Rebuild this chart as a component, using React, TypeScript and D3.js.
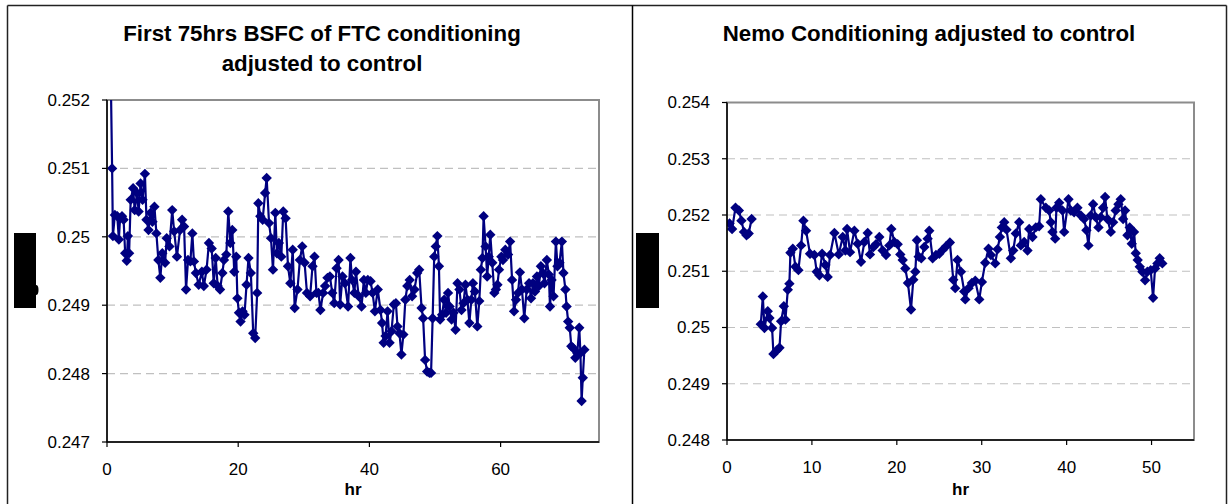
import React from "react";
import * as d3 from "d3";

// ---------- DATA ----------
const leftTitle = ["First 75hrs BSFC of FTC conditioning", "adjusted to control"];
const rightTitle = ["Nemo Conditioning adjusted to control"];
const xAxisTitle = "hr";

const leftXTicks = [0, 20, 40, 60];
const leftYTicks = [0.247, 0.248, 0.249, 0.25, 0.251, 0.252];
const leftYLabels = ["0.247", "0.248", "0.249", "0.25", "0.251", "0.252"];

const rightXTicks = [0, 10, 20, 30, 40, 50];
const rightYTicks = [0.248, 0.249, 0.25, 0.251, 0.252, 0.253, 0.254];
const rightYLabels = ["0.248", "0.249", "0.25", "0.251", "0.252", "0.253", "0.254"];

const leftHr = [
  0.4, 0.78, 0.9, 1.2, 1.57, 1.81, 1.99, 2.29, 2.53, 2.77,
  3.01, 3.19, 3.37, 3.61, 3.98, 4.22, 4.58, 4.82, 5.12, 5.42,
  5.78, 6.02, 6.33, 6.63, 6.93, 7.23, 7.53, 7.83, 8.13, 8.43,
  8.86, 9.1, 9.52, 9.94, 10.24, 10.66, 11.14, 11.45, 11.75, 12.05,
  12.35, 12.71, 13.01, 13.25, 13.55, 13.98, 14.46, 14.76, 15.18, 15.54,
  15.96, 16.27, 16.57, 16.87, 17.23, 17.59, 17.83, 18.19, 18.49, 18.8,
  19.1, 19.4, 19.7, 19.88, 20.12, 20.36, 20.66, 20.96, 21.27, 21.57,
  21.93, 22.29, 22.59, 22.89, 23.07, 23.37, 23.73, 24.1, 24.34, 24.7,
  25.0, 25.3, 25.66, 25.9, 26.2, 26.57, 26.87, 27.23, 27.59, 27.95,
  28.31, 28.61, 29.04, 29.4, 29.76, 30.12, 30.48, 30.96, 31.33, 31.63,
  31.93, 32.23, 32.53, 32.95, 33.25, 33.61, 33.98, 34.34, 34.64, 35.0,
  35.3, 35.54, 35.9, 36.27, 36.75, 37.11, 37.35, 37.71, 37.95, 38.37,
  38.8, 39.16, 39.46, 39.76, 40.18, 40.48, 40.84, 41.27, 41.69, 41.93,
  42.17, 42.47, 42.77, 43.07, 43.37, 43.73, 44.04, 44.28, 44.58, 44.88,
  45.18, 45.48, 45.78, 46.14, 46.51, 46.87, 47.29, 47.59, 47.95, 48.19,
  48.49, 48.8, 49.16, 49.4, 49.64, 49.88, 50.12, 50.36, 50.6, 50.78,
  51.08, 51.39, 51.69, 51.99, 52.23, 52.53, 52.83, 53.13, 53.43, 53.73,
  54.04, 54.34, 54.64, 54.94, 55.24, 55.54, 55.78, 56.08, 56.45, 56.75,
  56.99, 57.23, 57.41, 57.71, 57.95, 58.19, 58.43, 58.73, 59.04, 59.28,
  59.52, 59.76, 60.12, 60.36, 60.72, 61.14, 61.45, 61.75, 62.05, 62.35,
  62.65, 62.95, 63.25, 63.61, 63.98, 64.34, 64.64, 64.94, 65.24, 65.54,
  65.84, 66.14, 66.45, 66.69, 67.05, 67.35, 67.53, 67.77, 68.07, 68.43,
  68.67, 68.98, 69.34, 69.58, 69.88, 70.06, 70.3, 70.54, 70.78, 71.08,
  71.39, 71.69, 71.99, 72.17, 72.35, 72.53, 72.77,
];
const leftBsfc = [
  0.2535, 0.251, 0.25001, 0.25032, 0.2503, 0.24996, 0.25027, 0.2503, 0.25025, 0.24976,
  0.24965, 0.25001, 0.24976, 0.25054, 0.25071, 0.25039, 0.25064, 0.25037, 0.25078, 0.25054,
  0.25092, 0.25025, 0.2501, 0.25035, 0.25022, 0.25044, 0.25005, 0.24966, 0.2494, 0.24976,
  0.24962, 0.24998, 0.24986, 0.25039, 0.25008, 0.24971, 0.2501, 0.25025, 0.25015, 0.24923,
  0.24966, 0.24964, 0.25005, 0.24964, 0.24947, 0.2493, 0.24949, 0.24928, 0.24952, 0.24991,
  0.24983, 0.24932, 0.24969, 0.24928, 0.24923, 0.24947, 0.24966, 0.24974, 0.25037, 0.24991,
  0.2501, 0.24949, 0.24971, 0.2491, 0.24889, 0.24876, 0.24891, 0.24886, 0.2493, 0.24969,
  0.24947, 0.24859, 0.24852, 0.24918, 0.25049, 0.2503, 0.25025, 0.25064, 0.25086, 0.2502,
  0.24998, 0.24952, 0.25035, 0.24976, 0.24991, 0.24971, 0.25037, 0.25027, 0.24957, 0.24932,
  0.24981, 0.24896, 0.24923, 0.24966, 0.24986, 0.24962, 0.24918, 0.24913, 0.24957, 0.24971,
  0.24918, 0.24918, 0.24893, 0.24918, 0.24928, 0.2494, 0.24942, 0.24918, 0.24903, 0.24954,
  0.24966, 0.24901, 0.24942, 0.24932, 0.24898, 0.24969, 0.24937, 0.24918, 0.24949, 0.24913,
  0.24898, 0.24937, 0.24918, 0.24937, 0.24935, 0.24918, 0.24891, 0.24923, 0.24893, 0.24874,
  0.24845, 0.24855, 0.24891, 0.24845, 0.24862, 0.24901, 0.24903, 0.24869, 0.24859, 0.24828,
  0.24857, 0.24908, 0.24928, 0.24937, 0.24913, 0.24923, 0.24947, 0.24952, 0.24896, 0.24881,
  0.2482, 0.24803, 0.24801, 0.24801, 0.24881, 0.24971, 0.24986, 0.25001, 0.24957, 0.24879,
  0.24886, 0.24908, 0.24889, 0.24918, 0.24898, 0.24879, 0.24889, 0.24864, 0.24932, 0.24923,
  0.24893, 0.24903, 0.2493, 0.24908, 0.24874, 0.24908, 0.24932, 0.2492, 0.24869, 0.24906,
  0.24952, 0.24969, 0.2503, 0.24986, 0.24942, 0.24971, 0.25003, 0.24962, 0.24918, 0.24923,
  0.2493, 0.24952, 0.24971, 0.24966, 0.24981, 0.24974, 0.24993, 0.24937, 0.24891, 0.24908,
  0.24918, 0.24948, 0.24923, 0.24881, 0.24923, 0.24932, 0.2491, 0.24932, 0.2492, 0.24942,
  0.24928, 0.24957, 0.24947, 0.24932, 0.24966, 0.24945, 0.24898, 0.24937, 0.24913, 0.24993,
  0.24957, 0.24962, 0.24993, 0.24947, 0.24923, 0.24898, 0.24876, 0.24867, 0.2484, 0.24837,
  0.24823, 0.2483, 0.24867, 0.2483, 0.2476, 0.24794, 0.24835,
];

const rightHr = [
  0.3, 0.6, 1.0, 1.4, 1.7, 2.0, 2.3, 2.55, 2.9, 3.5,
  3.98, 4.22, 4.41, 4.8, 5.0, 5.31, 5.47, 5.86, 6.18, 6.37,
  6.69, 6.88, 7.16, 7.35, 7.47, 7.75, 8.06, 8.41, 8.73, 9.0,
  9.31, 9.78, 10.29, 10.57, 10.88, 11.2, 11.59, 11.86, 12.14, 12.65,
  13.16, 13.63, 13.94, 14.14, 14.49, 15.0, 15.39, 15.78, 16.18, 16.57,
  16.84, 17.24, 17.55, 17.94, 18.33, 18.73, 19.12, 19.35, 19.71, 20.1,
  20.41, 20.69, 21.0, 21.31, 21.67, 21.94, 22.18, 22.37, 22.57, 22.88,
  23.24, 23.63, 23.82, 24.22, 24.61, 25.0, 25.39, 25.78, 26.25, 26.65,
  26.88, 27.15, 27.55, 27.94, 28.06, 28.45, 28.84, 29.24, 29.71, 30.02,
  30.41, 30.8, 31.08, 31.59, 31.86, 32.14, 32.37, 32.65, 32.92, 33.43,
  33.71, 34.02, 34.41, 34.61, 35.0, 35.39, 35.59, 35.98, 36.37, 36.76,
  36.96, 37.55, 37.94, 38.14, 38.33, 38.65, 38.8, 39.12, 39.51, 39.71,
  40.22, 40.49, 40.88, 41.27, 41.67, 42.06, 42.33, 42.57, 42.84, 43.12,
  43.43, 43.75, 44.02, 44.29, 44.53, 44.8, 45.2, 45.47, 45.78, 46.1,
  46.37, 46.65, 46.88, 47.16, 47.43, 47.67, 47.94, 48.14, 48.37, 48.61,
  48.92, 49.24, 49.51, 49.9, 50.18, 50.41, 50.69, 50.96, 51.27,
];
const rightBsfc: (number | null)[] = [
  0.25185, 0.25175, 0.25213, 0.25208, 0.2519, 0.2517, 0.25164, 0.25167, 0.25193, null,
  0.25006, 0.25055, 0.24999, 0.25029, 0.25017, 0.24999, 0.24953, 0.24959, 0.24964, 0.25011,
  0.25038, 0.25014, 0.25067, 0.25078, 0.25133, 0.2514, 0.25108, 0.25102, 0.25146, 0.2519,
  0.25172, 0.25131, 0.25129, 0.25099, 0.25093, 0.25131, 0.25111, 0.2509, 0.25129, 0.25168,
  0.2513, 0.25161, 0.25137, 0.25175, 0.25134, 0.25172, 0.25149, 0.25117, 0.25152, 0.25168,
  0.2513, 0.25143, 0.25148, 0.25161, 0.25137, 0.25129, 0.25146, 0.25175, 0.25152, 0.25148,
  0.2513, 0.2512, 0.25105, 0.25079, 0.25032, 0.25085, 0.25099, 0.25155, 0.25126, 0.25123,
  0.25143, 0.25158, 0.25172, 0.25123, 0.25129, 0.25131, 0.25138, 0.25144, 0.25151, 0.25085,
  0.2507, 0.2512, 0.25099, 0.25064, 0.2505, 0.2507, 0.25079, 0.25083, 0.2505, 0.25081,
  0.25115, 0.2514, 0.25129, 0.25114, 0.25139, 0.25161, 0.25178, 0.25187, 0.25174, 0.25123,
  0.25137, 0.25167, 0.25187, 0.25146, 0.25152, 0.25137, 0.25175, 0.25161, 0.25178, 0.2518,
  0.25228, 0.25213, 0.25208, 0.25187, 0.2517, 0.25158, 0.25213, 0.25222, 0.25208, 0.2517,
  0.25228, 0.25208, 0.25205, 0.25213, 0.25199, 0.25193, 0.25173, 0.25146, 0.25199, 0.25219,
  0.25196, 0.25178, 0.25196, 0.25213, 0.25232, 0.25193, 0.2517, 0.25187, 0.25208, 0.25219,
  0.25228, 0.25193, 0.25208, 0.25164, 0.25178, 0.25149, 0.2517, 0.25132, 0.2512, 0.25108,
  0.25099, 0.25084, 0.25099, 0.25102, 0.25053, 0.25105, 0.25114, 0.25123, 0.25114,
];

// ---------- STYLE ----------
const FONT = "'Liberation Sans', Arial, Helvetica, sans-serif";
const NAVY = "#000080";
const DIAMOND = "M0,-5.2L5.2,0L0,5.2L-5.2,0Z";

type PanelProps = {
  id: string;
  title: string[];
  titleX: number;
  hr: number[];
  vals: (number | null)[];
  xDomain: [number, number];
  yDomain: [number, number];
  x0: number; x1: number; y0: number; y1: number;
  xTicks: number[];
  yTicks: number[];
  yLabels: string[];
};

function Panel(p: PanelProps) {
  const x = d3.scaleLinear().domain(p.xDomain).range([p.x0, p.x1]);
  const y = d3.scaleLinear().domain(p.yDomain).range([p.y1, p.y0]);
  const pts = p.hr.map((h, i) => [h, p.vals[i]] as [number, number | null]);
  const line = d3
    .line<[number, number | null]>()
    .defined((d) => d[1] != null)
    .x((d) => x(d[0]))
    .y((d) => y(d[1] as number));
  const clip = `clip-${p.id}`;
  return (
    <g>
      <defs>
        <clipPath id={clip}>
          <rect x={p.x0} y={p.y0} width={p.x1 - p.x0} height={p.y1 - p.y0} />
        </clipPath>
      </defs>
      {p.title.map((t, i) => (
        <text key={i} x={p.titleX} y={41 + i * 30} textAnchor="middle" fontFamily={FONT}
          fontWeight="bold" fontSize={22.3} fill="#000">{t}</text>
      ))}
      {p.yTicks.slice(1, -1).map((t) => (
        <line key={t} x1={p.x0} x2={p.x1} y1={y(t)} y2={y(t)} stroke="#c0c0c0"
          strokeWidth={1.2} strokeDasharray="8,5" />
      ))}
      <rect x={p.x0} y={p.y0} width={p.x1 - p.x0} height={p.y1 - p.y0} fill="none"
        stroke="#8c8c8c" strokeWidth={2} />
      <g clipPath={`url(#${clip})`}>
        <path d={line(pts) || ""} fill="none" stroke={NAVY} strokeWidth={2.2} />
        {pts.filter((d) => d[1] != null).map((d, i) => (
          <path key={i} d={DIAMOND} transform={`translate(${x(d[0])},${y(d[1] as number)})`} fill={NAVY} />
        ))}
      </g>
      <line x1={p.x0} x2={p.x0} y1={p.y0} y2={p.y1} stroke="#000" strokeWidth={1.5} />
      <line x1={p.x0} x2={p.x1} y1={p.y1} y2={p.y1} stroke="#000" strokeWidth={1.5} />
      {p.yTicks.map((t, i) => (
        <g key={t}>
          <line x1={p.x0 - 5} x2={p.x0} y1={y(t)} y2={y(t)} stroke="#000" strokeWidth={1.2} />
          <text x={p.x0 - 17} y={y(t)} dy="0.35em" textAnchor="end" fontFamily={FONT}
            fontSize={17} fill="#000">{p.yLabels[i]}</text>
        </g>
      ))}
      {p.xTicks.map((t) => (
        <g key={t}>
          <line x1={x(t)} x2={x(t)} y1={p.y1} y2={p.y1 + 5} stroke="#000" strokeWidth={1.2} />
          <text x={x(t)} y={p.y1 + 33} textAnchor="middle" fontFamily={FONT}
            fontSize={17} fill="#000">{t}</text>
        </g>
      ))}
      <text x={(p.x0 + p.x1) / 2} y={495} textAnchor="middle" fontFamily={FONT}
        fontWeight="bold" fontSize={17} fill="#000">{xAxisTitle}</text>
    </g>
  );
}

export default function App() {
  return (
    <svg width={1228} height={504} style={{ position: "absolute", left: 0, top: 0, background: "#fff" }}>
      <rect x={0} y={0} width={1228} height={504} fill="#fff" />
      <line x1={7.5} x2={1226.5} y1={5.5} y2={5.5} stroke="#222" strokeWidth={1.5} />
      <line x1={7.5} x2={7.5} y1={5.5} y2={504} stroke="#222" strokeWidth={1.5} />
      <line x1={632.5} x2={632.5} y1={5.5} y2={504} stroke="#000" strokeWidth={1.5} />
      <line x1={1226.5} x2={1226.5} y1={5.5} y2={504} stroke="#222" strokeWidth={1.5} />

      <Panel id="l" title={leftTitle} titleX={322} hr={leftHr} vals={leftBsfc}
        xDomain={[0, 75]} yDomain={[0.247, 0.252]} x0={107} x1={599} y0={100} y1={442}
        xTicks={leftXTicks} yTicks={leftYTicks} yLabels={leftYLabels} />
      <Panel id="r" title={rightTitle} titleX={929} hr={rightHr} vals={rightBsfc}
        xDomain={[0, 55]} yDomain={[0.248, 0.254]} x0={727} x1={1194} y0={102.5} y1={440}
        xTicks={rightXTicks} yTicks={rightYTicks} yLabels={rightYLabels} />

      <rect x={14} y={233} width={22} height={75} fill="#000" />
      <ellipse cx={36} cy={290} rx={2.5} ry={5} fill="#000" />
      <rect x={636} y={233} width={23} height={75} fill="#000" />
    </svg>
  );
}
